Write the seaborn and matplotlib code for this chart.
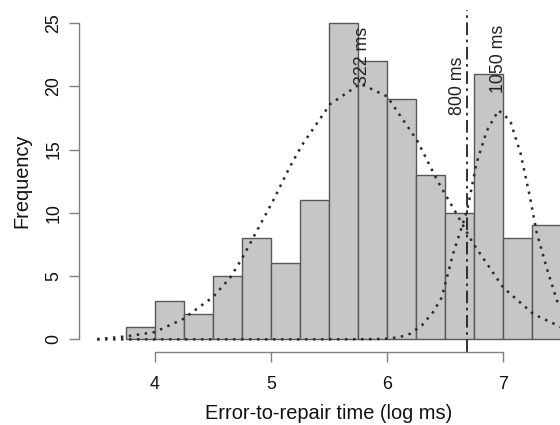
import matplotlib
matplotlib.use("Agg")
import matplotlib.pyplot as plt
import numpy as np
import seaborn as sns

# histogram of log error-to-repair times
bin_edges = [3.75, 4.0, 4.25, 4.5, 4.75, 5.0, 5.25, 5.5, 5.75, 6.0, 6.25, 6.5, 6.75, 7.0, 7.25, 7.5]
bin_counts = [1, 3, 2, 5, 8, 6, 11, 25, 22, 19, 13, 10, 21, 8, 9]

# fitted component curves
fast_x = [3.5, 3.76, 4.0, 4.24, 4.5, 4.65, 4.75, 4.85, 5.02, 5.16, 5.27, 5.51, 5.77,
          6.0, 6.26, 6.43, 6.6, 6.74, 7.0, 7.26, 7.5]
fast_y = [0.02, 0.24, 0.58, 1.6, 3.35, 4.9, 6.4, 8.1, 11.0, 13.6, 15.4, 18.6, 20.2,
          19.2, 15.7, 12.6, 9.9, 7.6, 4.1, 2.0, 0.97]
slow_x = [3.5, 5.5, 5.9, 6.0, 6.11, 6.2, 6.3, 6.4, 6.47, 6.57, 6.69, 6.77, 6.86, 6.96,
          7.06, 7.15, 7.23, 7.29, 7.38, 7.48]
slow_y = [0.0, 0.0, 0.02, 0.05, 0.18, 0.45, 1.1, 2.2, 3.3, 6.8, 10.2, 13.9, 16.5, 18.1,
          17.3, 14.7, 11.3, 8.4, 5.5, 2.6]

cutoff_ms = 800
label_ms = [322, 800, 1050]
label_y = [20.1, 17.7, 19.5]
label_shift = [0.015, -0.082, 0.0]

sns.set_style("white")
plt.rcParams["font.family"] = ["Liberation Sans", "DejaVu Sans"]

fig = plt.figure(figsize=(5.6, 4.25), dpi=100)
ax = fig.add_axes([79 / 560, 1 - 352 / 425, 481 / 560, 341.6 / 425])

centers = [(a + b) / 2 for a, b in zip(bin_edges[:-1], bin_edges[1:])]
sns.histplot(x=centers, weights=bin_counts, bins=bin_edges, facecolor="#c6c6c6",
             edgecolor="#585858", linewidth=1.0, alpha=1, ax=ax)

dots = (0, (1, 2.2))
sns.lineplot(x=fast_x, y=fast_y, estimator=None, sort=False, ax=ax, color="#2b2b2b",
             linewidth=1.8, linestyle=dots, dash_capstyle="butt")
sns.lineplot(x=slow_x, y=slow_y, estimator=None, sort=False, ax=ax, color="#2b2b2b",
             linewidth=1.8, linestyle=dots, dash_capstyle="butt")

ax.axvline(np.log(cutoff_ms), color="#222222", linewidth=1.3, linestyle=(0, (7, 2.5, 1.5, 2.5)))

for ms, y, dx in zip(label_ms, label_y, label_shift):
    ax.text(np.log(ms) + dx, y, f"{ms} ms", rotation=90, ha="center", va="bottom",
            fontsize=12.8, color="#222222")

ax.set_xlim(3.345, 7.49)
ax.set_ylim(-1, 26)
ax.set_xticks([4, 5, 6, 7])
ax.set_yticks([0, 5, 10, 15, 20, 25])
ax.spines["top"].set_visible(False)
ax.spines["right"].set_visible(False)
for side in ["left", "bottom"]:
    ax.spines[side].set_color("#808080")
    ax.spines[side].set_linewidth(1.0)
ax.spines["bottom"].set_bounds(4, 7)
ax.spines["left"].set_bounds(0, 25)
ax.tick_params(axis="x", bottom=True, direction="out", length=7.5, width=1,
               color="#808080", pad=10, labelsize=12.8, labelcolor="#111111")
ax.tick_params(axis="y", left=True, direction="out", length=7.5, width=1,
               color="#808080", pad=4.5, labelsize=12.8, labelrotation=90,
               labelcolor="#111111")
for lab in ax.get_yticklabels():
    lab.set_va("center")

ax.set_xlabel("Error-to-repair time (log ms)", fontsize=14.4, color="#111111")
ax.set_ylabel("Frequency", fontsize=14.4, color="#111111")
ax.xaxis.set_label_coords(0.52, -0.152)
ax.yaxis.set_label_coords(-0.1, 0.5)

fig.savefig("out.png", dpi=100)
